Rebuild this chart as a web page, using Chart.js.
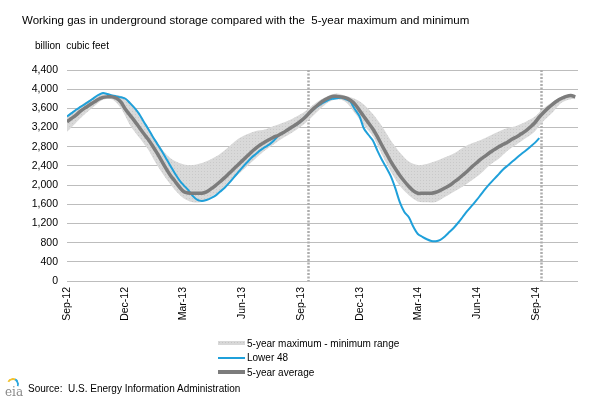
<!DOCTYPE html>
<html lang="en">
<head>
<meta charset="UTF-8">
<title>Working gas in underground storage</title>
<script src="https://cdn.jsdelivr.net/npm/chart.js"></script>
<style>
  body { margin: 0; padding: 0; background: #fff; font-family: "Liberation Sans", Arial, sans-serif; }
  #wrap { position: relative; width: 603px; height: 406px; overflow: hidden; }
  #wrap canvas { position: absolute; left: 0; top: 0; }
  .txt { position: absolute; white-space: pre; color: #000; line-height: 1; }
  #title { left: 22px; top: 15px; font-size: 11.5px; }
  #units { left: 35px; top: 41px; font-size: 10px; }
  #legend { position: absolute; left: 218px; top: 336px; font-size: 10px; }
  #legend .row { height: 14.5px; display: flex; align-items: center; white-space: pre; }
  #legend .sw { width: 27px; margin-right: 2px; }
  #source { left: 28px; top: 384px; font-size: 10px; }
  #logo { position: absolute; left: 4px; top: 377px; width: 18px; height: 22px; }
  #logo .sun { position: absolute; left: 3px; top: 1px; width: 12px; height: 12px; border-radius: 50%;
               border-top: 2px solid #f2c230; border-left: 2px solid transparent; border-right: 2px solid #2aa6de;
               border-bottom: 2px solid transparent; box-sizing: border-box; transform: rotate(-20deg); }
  #logo .name { position: absolute; left: 1px; top: 8px; font-family: "DejaVu Serif", serif; font-size: 12px; color: #8a8a8a; }
</style>
</head>
<body>
<div id="wrap">
  <canvas id="chart" width="603" height="406"></canvas>
  <div class="txt" id="title">Working gas in underground storage compared with the  5-year maximum and minimum</div>
  <div class="txt" id="units">billion  cubic feet</div>
  <div id="legend">
    <div class="row"><span class="sw" style="height:4px;background:#d8d8d8;background-image:radial-gradient(#c4c4c4 0.6px, transparent 0.8px);background-size:3px 3px;"></span>5-year maximum - minimum range</div>
    <div class="row"><span class="sw" style="height:2px;background:#1fa0da;"></span>Lower 48</div>
    <div class="row"><span class="sw" style="height:4px;background:#7c7c7c;"></span>5-year average</div>
  </div>
  <div id="logo"><div class="sun"></div><div class="name">eia</div></div>
  <div class="txt" id="source">Source:  U.S. Energy Information Administration</div>
</div>

<script>
// x positions are weeks counted from the first week of Sep 2012
var tickWeeks = [0, 13, 25.9, 39, 52.1, 65.1, 78, 91.1, 104.3];
var tickLabels = ['Sep-12', 'Dec-12', 'Mar-13', 'Jun-13', 'Sep-13', 'Dec-13', 'Mar-14', 'Jun-14', 'Sep-14'];
var markerWeeks = [53.6, 105.3];

// Lower 48 working gas, weekly
var lower48 = [
  3430, 3500, 3570, 3630, 3690, 3750, 3820, 3880, 3920, 3900,
  3870, 3850, 3830, 3800, 3710, 3610, 3490, 3330, 3180, 3020,
  2870, 2720, 2560, 2400, 2240, 2100, 1990, 1890, 1770, 1690,
  1670, 1690, 1730, 1780, 1860, 1940, 2040, 2150, 2260, 2370,
  2470, 2570, 2650, 2730, 2790, 2850, 2930, 3030, 3090, 3150,
  3210, 3260, 3330, 3430, 3510, 3590, 3660, 3720, 3770, 3800,
  3810, 3820, 3790, 3740, 3580, 3440, 3180, 3050, 2930, 2720,
  2530, 2360, 2180, 1930, 1640, 1440, 1330, 1130, 980, 920,
  870, 835, 830, 860, 930, 1020, 1110, 1220, 1340, 1460,
  1570, 1680, 1800, 1920, 2030, 2130, 2230, 2330, 2410, 2490,
  2570, 2650, 2720, 2800, 2880, 2980
];

// 5-year average, weekly
var avg5 = [
  3320, 3390, 3460, 3540, 3610, 3670, 3730, 3790, 3830, 3840,
  3840, 3810, 3730, 3580, 3460, 3340, 3210, 3080, 2960, 2820,
  2670, 2510, 2350, 2200, 2080, 1960, 1860, 1835, 1830, 1830,
  1830, 1860, 1920, 1990, 2070, 2150, 2240, 2330, 2420, 2510,
  2600, 2690, 2770, 2840, 2900, 2950, 3000, 3040, 3090, 3150,
  3210, 3270, 3340, 3420, 3520, 3610, 3690, 3760, 3810, 3850,
  3850, 3840, 3820, 3770, 3690, 3560, 3430, 3300, 3170, 3010,
  2830, 2660, 2490, 2340, 2200, 2080, 1970, 1880, 1830, 1830,
  1830, 1830, 1850, 1890, 1940, 1990, 2060, 2130, 2210, 2290,
  2380, 2460, 2540, 2610, 2680, 2740, 2800, 2850, 2900, 2960,
  3010, 3070, 3130, 3210, 3300, 3420, 3520, 3610, 3690, 3760,
  3810, 3850, 3870, 3840
];

// 5-year range, read every other week
var bandWeeks = [
  0, 2, 4, 6, 8, 10, 12, 14, 16, 18, 20, 22, 24, 26, 28, 30, 32, 34, 36, 38,
  40, 42, 44, 46, 48, 50, 52, 54, 56, 58, 60, 62, 64, 66, 68, 70, 72, 74, 76, 78,
  80, 82, 84, 86, 88, 90, 92, 94, 96, 98, 100, 102, 104, 106, 108, 110, 112, 113
];
var max5 = [
  3450, 3580, 3720, 3830, 3900, 3890, 3860, 3750, 3500, 3200, 2900, 2650, 2500, 2430, 2420, 2460, 2540, 2650, 2800, 2960,
  3060, 3130, 3160, 3230, 3300, 3380, 3480, 3620, 3760, 3860, 3910, 3860, 3800, 3680, 3480, 3230, 2930, 2680, 2490, 2420,
  2440, 2500, 2580, 2660, 2780, 2870, 2940, 3030, 3120, 3190, 3240, 3320, 3430, 3610, 3740, 3850, 3900, 3880
];
var min5 = [
  3110, 3300, 3480, 3640, 3780, 3790, 3600, 3250, 3000, 2750, 2420, 2140, 1900, 1720, 1640, 1650, 1750, 1880, 2050, 2220,
  2390, 2560, 2720, 2850, 2980, 3090, 3220, 3380, 3560, 3720, 3790, 3730, 3500, 3250, 3020, 2640, 2280, 1980, 1790, 1660,
  1640, 1650, 1750, 1860, 1970, 2100, 2240, 2420, 2550, 2720, 2850, 2980, 3120, 3340, 3520, 3720, 3790, 3790
];

var canvas = document.getElementById('chart');
var ctx = canvas.getContext('2d');

// light stippled grey fill like the original range area
var tile = document.createElement('canvas');
tile.width = 3; tile.height = 3;
var tctx = tile.getContext('2d');
tctx.fillStyle = '#d9d9d9';
tctx.fillRect(0, 0, 3, 3);
tctx.fillStyle = '#c9c9c9';
tctx.fillRect(0, 0, 1, 1);
var bandFill = ctx.createPattern(tile, 'repeat');

var markerLines = {
  id: 'markerLines',
  beforeDatasetsDraw: function(chart) {
    var c = chart.ctx, area = chart.chartArea, xs = chart.scales.x;
    c.save();
    c.strokeStyle = '#adadad';
    c.lineWidth = 2.5;
    c.setLineDash([2, 1.5]);
    markerWeeks.forEach(function(w) {
      var x = Math.round(xs.getPixelForValue(w)) + 0.5;
      c.beginPath();
      c.moveTo(x, area.top);
      c.lineTo(x, area.bottom);
      c.stroke();
    });
    c.restore();
  }
};

function pts(xs, ys) {
  return ys.map(function(v, i) { return { x: xs ? xs[i] : i, y: v }; });
}

new Chart(ctx, {
  type: 'line',
  data: {
    datasets: [
      {
        label: '5-year average',
        data: pts(null, avg5),
        borderColor: '#7c7c7c',
        borderWidth: 3.5,
        pointRadius: 0,
        tension: 0.3,
        fill: false
      },
      {
        label: 'Lower 48',
        data: pts(null, lower48),
        borderColor: '#1fa0da',
        borderWidth: 2,
        pointRadius: 0,
        tension: 0.3,
        fill: false
      },
      {
        label: 'max',
        data: pts(bandWeeks, max5),
        borderWidth: 0,
        borderColor: 'rgba(0,0,0,0)',
        pointRadius: 0,
        tension: 0.3,
        fill: false
      },
      {
        label: '5-year maximum - minimum range',
        data: pts(bandWeeks, min5),
        borderWidth: 0,
        borderColor: 'rgba(0,0,0,0)',
        backgroundColor: bandFill,
        pointRadius: 0,
        tension: 0.3,
        fill: '-1'
      }
    ]
  },
  options: {
    responsive: false,
    animation: false,
    layout: { padding: { left: 0, top: 70, right: 25, bottom: 0 } },
    plugins: {
      legend: { display: false },
      tooltip: { enabled: false },
      filler: { propagate: false }
    },
    scales: {
      x: {
        type: 'linear',
        min: 0,
        max: 113.6,
        afterFit: function(s) { s.height = 125; },
        afterBuildTicks: function(s) {
          s.ticks = tickWeeks.map(function(w) { return { value: w }; });
        },
        grid: { display: false, drawTicks: false },
        border: { display: false },
        ticks: {
          autoSkip: false,
          minRotation: 90,
          maxRotation: 90,
          padding: 6,
          color: '#000',
          font: { family: '"Liberation Sans", Arial, sans-serif', size: 10.5 },
          callback: function(v, i) { return tickLabels[i]; }
        }
      },
      y: {
        min: 0,
        max: 4400,
        afterFit: function(s) { s.width = 67; },
        grid: { color: '#bdbdbd', lineWidth: 1, drawTicks: false },
        border: { display: false },
        ticks: {
          stepSize: 400,
          padding: 9,
          color: '#000',
          font: { family: '"Liberation Sans", Arial, sans-serif', size: 10.5 },
          callback: function(v) { return v.toLocaleString('en-US'); }
        }
      }
    }
  },
  plugins: [markerLines]
});
</script>
</body>
</html>
